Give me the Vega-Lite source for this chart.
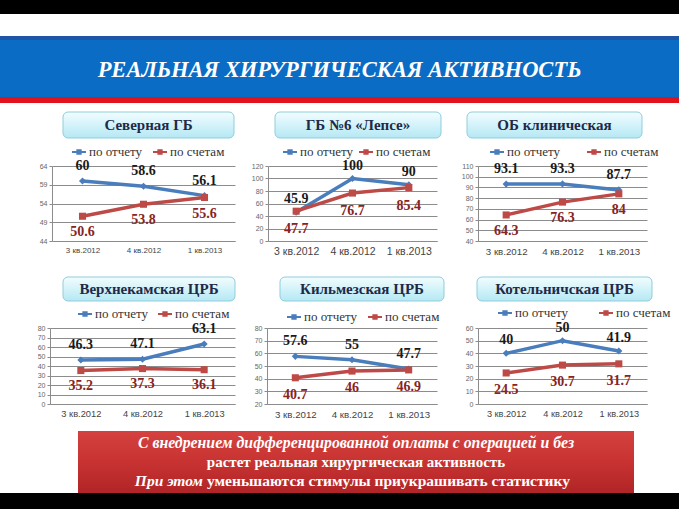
{
"$schema": "https://vega.github.io/schema/vega-lite/v6.json",
"padding": 0,
"background": "white",
"datasets": {
"d": [
{"p":"p1","q":"3 кв.2012","s":"по отчету","v":60},{"p":"p1","q":"4 кв.2012","s":"по отчету","v":58.6},{"p":"p1","q":"1 кв.2013","s":"по отчету","v":56.1},
{"p":"p1","q":"3 кв.2012","s":"по счетам","v":50.6},{"p":"p1","q":"4 кв.2012","s":"по счетам","v":53.8},{"p":"p1","q":"1 кв.2013","s":"по счетам","v":55.6},
{"p":"p2","q":"3 кв.2012","s":"по отчету","v":45.9},{"p":"p2","q":"4 кв.2012","s":"по отчету","v":100},{"p":"p2","q":"1 кв.2013","s":"по отчету","v":90},
{"p":"p2","q":"3 кв.2012","s":"по счетам","v":47.7},{"p":"p2","q":"4 кв.2012","s":"по счетам","v":76.7},{"p":"p2","q":"1 кв.2013","s":"по счетам","v":85.4},
{"p":"p3","q":"3 кв.2012","s":"по отчету","v":93.1},{"p":"p3","q":"4 кв.2012","s":"по отчету","v":93.3},{"p":"p3","q":"1 кв.2013","s":"по отчету","v":87.7},
{"p":"p3","q":"3 кв.2012","s":"по счетам","v":64.3},{"p":"p3","q":"4 кв.2012","s":"по счетам","v":76.3},{"p":"p3","q":"1 кв.2013","s":"по счетам","v":84},
{"p":"p4","q":"3 кв.2012","s":"по отчету","v":46.3},{"p":"p4","q":"4 кв.2012","s":"по отчету","v":47.1},{"p":"p4","q":"1 кв.2013","s":"по отчету","v":63.1},
{"p":"p4","q":"3 кв.2012","s":"по счетам","v":35.2},{"p":"p4","q":"4 кв.2012","s":"по счетам","v":37.3},{"p":"p4","q":"1 кв.2013","s":"по счетам","v":36.1},
{"p":"p5","q":"3 кв.2012","s":"по отчету","v":57.6},{"p":"p5","q":"4 кв.2012","s":"по отчету","v":55},{"p":"p5","q":"1 кв.2013","s":"по отчету","v":47.7},
{"p":"p5","q":"3 кв.2012","s":"по счетам","v":40.7},{"p":"p5","q":"4 кв.2012","s":"по счетам","v":46},{"p":"p5","q":"1 кв.2013","s":"по счетам","v":46.9},
{"p":"p6","q":"3 кв.2012","s":"по отчету","v":40},{"p":"p6","q":"4 кв.2012","s":"по отчету","v":50},{"p":"p6","q":"1 кв.2013","s":"по отчету","v":41.9},
{"p":"p6","q":"3 кв.2012","s":"по счетам","v":24.5},{"p":"p6","q":"4 кв.2012","s":"по счетам","v":30.7},{"p":"p6","q":"1 кв.2013","s":"по счетам","v":31.7}
],
"t": [
{"line":"1","part":"c","text":"С внедрением дифференцированной оплаты с операцией и без"},
{"line":"2","part":"b","text":"растет реальная хирургическая активность"},
{"line":"3","part":"l","text":"При этом"},
{"line":"3","part":"r","text":"уменьшаются стимулы приукрашивать статистику"}
]
},
"data": {"values": [{"k": 1}]},
"spacing": 0,
"bounds": "full",
"resolve": {"scale": {"color": "independent", "stroke": "independent", "shape": "independent"}, "legend": {"color": "independent", "stroke": "independent", "shape": "independent"}},
"vconcat": [
{"width":679,"height":14,"mark":{"type":"rect","color":"#000000"}},
{"width":679,"height":22,"mark":{"type":"rect","opacity":0}},
{"width":679,"height":4,"mark":{"type":"rect","color":"#1f55a5"}},
{"width":679,"height":57,"data":{"values":[{"t":"РЕАЛЬНАЯ ХИРУРГИЧЕСКАЯ АКТИВНОСТЬ"}]},
 "layer":[
  {"mark":{"type":"rect","color":"#0a6cc4"}},
  {"mark":{"type":"text","font":"Liberation Serif","fontStyle":"italic","fontWeight":"bold","fontSize":22.5,"color":"#ffffff","dy":1},"encoding":{"text":{"field":"t","type":"nominal"}}}
 ]},
{"width":679,"height":6,"mark":{"type":"rect","color":"#e3131b"}},
{"width":679,"height":8,"mark":{"type":"rect","opacity":0}},
{"hconcat":[
 {"width":63,"height":26,"mark":{"type":"rect","opacity":0}},
 {"width":171,"height":26,"data":{"values":[{"t":"Северная ГБ"}]},"layer":[
  {"mark":{"type":"rect","cornerRadius":5,"stroke":"#8fcddb","strokeWidth":1,"fill":{"gradient":"linear","x1":0,"y1":0,"x2":0,"y2":1,"stops":[{"offset":0,"color":"#f2fdff"},{"offset":1,"color":"#b5e8f4"}]}}},
  {"mark":{"type":"text","font":"Liberation Serif","fontWeight":"bold","fontSize":15,"color":"#1e2a48"},"encoding":{"text":{"field":"t","type":"nominal"}}}]},
 {"width":41,"height":26,"mark":{"type":"rect","opacity":0}},
 {"width":166,"height":26,"data":{"values":[{"t":"ГБ №6 «Лепсе»"}]},"layer":[
  {"mark":{"type":"rect","cornerRadius":5,"stroke":"#8fcddb","strokeWidth":1,"fill":{"gradient":"linear","x1":0,"y1":0,"x2":0,"y2":1,"stops":[{"offset":0,"color":"#f2fdff"},{"offset":1,"color":"#b5e8f4"}]}}},
  {"mark":{"type":"text","font":"Liberation Serif","fontWeight":"bold","fontSize":15,"color":"#1e2a48"},"encoding":{"text":{"field":"t","type":"nominal"}}}]},
 {"width":26,"height":26,"mark":{"type":"rect","opacity":0}},
 {"width":175,"height":26,"data":{"values":[{"t":"ОБ клиническая"}]},"layer":[
  {"mark":{"type":"rect","cornerRadius":5,"stroke":"#8fcddb","strokeWidth":1,"fill":{"gradient":"linear","x1":0,"y1":0,"x2":0,"y2":1,"stops":[{"offset":0,"color":"#f2fdff"},{"offset":1,"color":"#b5e8f4"}]}}},
  {"mark":{"type":"text","font":"Liberation Serif","fontWeight":"bold","fontSize":15,"color":"#1e2a48"},"encoding":{"text":{"field":"t","type":"nominal"}}}]}
 ],"spacing":0,"bounds":"flush"},
{"width":679,"height":6,"mark":{"type":"rect","opacity":0}},
{"hconcat":[
 {"width":52,"height":110,"mark":{"type":"rect","opacity":0}},
 {"width":183,"height":75,"data":{"name":"d"},"transform":[{"filter":{"field":"p","equal":"p1"}}],
  "encoding":{"x":{"field":"q","type":"ordinal","sort":null,"scale":{"type":"point","padding":0.5},"axis":{"title":null,"labelFontSize":8}},
   "y":{"field":"v","type":"quantitative","scale":{"domain":[44,64],"nice":false,"zero":false},"axis":{"title":null,"values":[44,49,54,59,64]}}},
  "layer":[
   {"mark":{"type":"line","strokeWidth":3.5},"encoding":{"stroke":{"field":"s","type":"nominal","scale":{"range":["#4a7dbb","#bd4a47"]},"legend":null}}},
   {"mark":{"type":"point","filled":true,"size":50,"opacity":1},"encoding":{"color":{"field":"s","type":"nominal","scale":{"domain":["по отчету","по счетам"],"range":["#4a7dbb","#bd4a47"]},"legend":{"title":null,"orient":"none","legendX":20,"legendY":-21,"direction":"horizontal","columnPadding":10,"symbolType":"M-1,-0.14H1V0.14H-1Z M-0.38,-0.38H0.38V0.38H-0.38Z","symbolSize":196,"symbolStrokeWidth":0}},"shape":{"field":"s","type":"nominal","scale":{"range":["diamond","square"]},"legend":null}}},
   {"transform":[{"filter":{"field":"s","equal":"по отчету"}}],"mark":{"type":"text","dy":-15,"font":"Liberation Serif","fontWeight":"bold","fontSize":14},"encoding":{"text":{"field":"v","type":"nominal"},"color":{"value":"#1a1a1a"}}},
   {"transform":[{"filter":{"field":"s","equal":"по счетам"}}],"mark":{"type":"text","dy":16,"font":"Liberation Serif","fontWeight":"bold","fontSize":14},"encoding":{"text":{"field":"v","type":"nominal"},"color":{"value":"#862424"}}}
  ]},
 {"width":33,"height":75,"mark":{"type":"rect","opacity":0}},
 {"width":169,"height":75,"data":{"name":"d"},"transform":[{"filter":{"field":"p","equal":"p2"}}],
  "encoding":{"x":{"field":"q","type":"ordinal","sort":null,"scale":{"type":"point","padding":0.5},"axis":{"title":null,"labelFontSize":10.5}},
   "y":{"field":"v","type":"quantitative","scale":{"domain":[0,120],"nice":false,"zero":false},"axis":{"title":null,"values":[0,20,40,60,80,100,120]}}},
  "layer":[
   {"mark":{"type":"line","strokeWidth":3.5},"encoding":{"stroke":{"field":"s","type":"nominal","scale":{"range":["#4a7dbb","#bd4a47"]},"legend":null}}},
   {"mark":{"type":"point","filled":true,"size":50,"opacity":1},"encoding":{"color":{"field":"s","type":"nominal","scale":{"domain":["по отчету","по счетам"],"range":["#4a7dbb","#bd4a47"]},"legend":{"title":null,"orient":"none","legendX":15,"legendY":-21,"direction":"horizontal","columnPadding":5,"symbolType":"M-1,-0.14H1V0.14H-1Z M-0.38,-0.38H0.38V0.38H-0.38Z","symbolSize":196,"symbolStrokeWidth":0}},"shape":{"field":"s","type":"nominal","scale":{"range":["diamond","square"]},"legend":null}}},
   {"transform":[{"filter":{"field":"s","equal":"по отчету"}}],"mark":{"type":"text","dy":-13,"font":"Liberation Serif","fontWeight":"bold","fontSize":14},"encoding":{"text":{"field":"v","type":"nominal"},"color":{"value":"#1a1a1a"}}},
   {"transform":[{"filter":{"field":"s","equal":"по счетам"}}],"mark":{"type":"text","dy":18,"font":"Liberation Serif","fontWeight":"bold","fontSize":14},"encoding":{"text":{"field":"v","type":"nominal"},"color":{"value":"#862424"}}}
  ]},
 {"width":41,"height":75,"mark":{"type":"rect","opacity":0}},
 {"width":169,"height":75,"data":{"name":"d"},"transform":[{"filter":{"field":"p","equal":"p3"}}],
  "encoding":{"x":{"field":"q","type":"ordinal","sort":null,"scale":{"type":"point","padding":0.5},"axis":{"title":null,"labelFontSize":9.7}},
   "y":{"field":"v","type":"quantitative","scale":{"domain":[40,110],"nice":false,"zero":false},"axis":{"title":null,"values":[40,50,60,70,80,90,100,110]}}},
  "layer":[
   {"mark":{"type":"line","strokeWidth":3.5},"encoding":{"stroke":{"field":"s","type":"nominal","scale":{"range":["#4a7dbb","#bd4a47"]},"legend":null}}},
   {"mark":{"type":"point","filled":true,"size":50,"opacity":1},"encoding":{"color":{"field":"s","type":"nominal","scale":{"domain":["по отчету","по счетам"],"range":["#4a7dbb","#bd4a47"]},"legend":{"title":null,"orient":"none","legendX":12,"legendY":-21,"direction":"horizontal","columnPadding":26,"symbolType":"M-1,-0.14H1V0.14H-1Z M-0.38,-0.38H0.38V0.38H-0.38Z","symbolSize":196,"symbolStrokeWidth":0}},"shape":{"field":"s","type":"nominal","scale":{"range":["diamond","square"]},"legend":null}}},
   {"transform":[{"filter":{"field":"s","equal":"по отчету"}}],"mark":{"type":"text","dy":-15,"font":"Liberation Serif","fontWeight":"bold","fontSize":14},"encoding":{"text":{"field":"v","type":"nominal"},"color":{"value":"#1a1a1a"}}},
   {"transform":[{"filter":{"field":"s","equal":"по счетам"}}],"mark":{"type":"text","dy":16,"font":"Liberation Serif","fontWeight":"bold","fontSize":14},"encoding":{"text":{"field":"v","type":"nominal"},"color":{"value":"#862424"}}}
  ]}
 ],"spacing":0,"bounds":"flush","resolve":{"scale":{"color":"independent","stroke":"independent","shape":"independent"},"legend":{"color":"independent","stroke":"independent","shape":"independent"}}},
{"hconcat":[
 {"width":63,"height":24,"mark":{"type":"rect","opacity":0}},
 {"width":172,"height":24,"data":{"values":[{"t":"Верхнекамская ЦРБ"}]},"layer":[
  {"mark":{"type":"rect","cornerRadius":5,"stroke":"#8fcddb","strokeWidth":1,"fill":{"gradient":"linear","x1":0,"y1":0,"x2":0,"y2":1,"stops":[{"offset":0,"color":"#f2fdff"},{"offset":1,"color":"#b5e8f4"}]}}},
  {"mark":{"type":"text","font":"Liberation Serif","fontWeight":"bold","fontSize":15,"color":"#1e2a48"},"encoding":{"text":{"field":"t","type":"nominal"}}}]},
 {"width":45,"height":24,"mark":{"type":"rect","opacity":0}},
 {"width":164,"height":24,"data":{"values":[{"t":"Кильмезская ЦРБ"}]},"layer":[
  {"mark":{"type":"rect","cornerRadius":5,"stroke":"#8fcddb","strokeWidth":1,"fill":{"gradient":"linear","x1":0,"y1":0,"x2":0,"y2":1,"stops":[{"offset":0,"color":"#f2fdff"},{"offset":1,"color":"#b5e8f4"}]}}},
  {"mark":{"type":"text","font":"Liberation Serif","fontWeight":"bold","fontSize":15,"color":"#1e2a48"},"encoding":{"text":{"field":"t","type":"nominal"}}}]},
 {"width":33,"height":24,"mark":{"type":"rect","opacity":0}},
 {"width":175,"height":24,"data":{"values":[{"t":"Котельничская ЦРБ"}]},"layer":[
  {"mark":{"type":"rect","cornerRadius":5,"stroke":"#8fcddb","strokeWidth":1,"fill":{"gradient":"linear","x1":0,"y1":0,"x2":0,"y2":1,"stops":[{"offset":0,"color":"#f2fdff"},{"offset":1,"color":"#b5e8f4"}]}}},
  {"mark":{"type":"text","font":"Liberation Serif","fontWeight":"bold","fontSize":15,"color":"#1e2a48"},"encoding":{"text":{"field":"t","type":"nominal"}}}]}
 ],"spacing":0,"bounds":"flush"},
{"width":679,"height":4,"mark":{"type":"rect","opacity":0}},
{"hconcat":[
 {"width":50,"height":103,"mark":{"type":"rect","opacity":0}},
 {"width":185,"height":76,"data":{"name":"d"},"transform":[{"filter":{"field":"p","equal":"p4"}}],
  "encoding":{"x":{"field":"q","type":"ordinal","sort":null,"scale":{"type":"point","padding":0.5},"axis":{"title":null,"labelFontSize":9.3}},
   "y":{"field":"v","type":"quantitative","scale":{"domain":[0,80],"nice":false,"zero":false},"axis":{"title":null,"values":[0,10,20,30,40,50,60,70,80]}}},
  "layer":[
   {"mark":{"type":"line","strokeWidth":3.5},"encoding":{"stroke":{"field":"s","type":"nominal","scale":{"range":["#4a7dbb","#bd4a47"]},"legend":null}}},
   {"mark":{"type":"point","filled":true,"size":50,"opacity":1},"encoding":{"color":{"field":"s","type":"nominal","scale":{"domain":["по отчету","по счетам"],"range":["#4a7dbb","#bd4a47"]},"legend":{"title":null,"orient":"none","legendX":28,"legendY":-21,"direction":"horizontal","columnPadding":9,"symbolType":"M-1,-0.14H1V0.14H-1Z M-0.38,-0.38H0.38V0.38H-0.38Z","symbolSize":196,"symbolStrokeWidth":0}},"shape":{"field":"s","type":"nominal","scale":{"range":["diamond","square"]},"legend":null}}},
   {"transform":[{"filter":{"field":"s","equal":"по отчету"}}],"mark":{"type":"text","dy":-15,"font":"Liberation Serif","fontWeight":"bold","fontSize":14},"encoding":{"text":{"field":"v","type":"nominal"},"color":{"value":"#1a1a1a"}}},
   {"transform":[{"filter":{"field":"s","equal":"по счетам"}}],"mark":{"type":"text","dy":15,"font":"Liberation Serif","fontWeight":"bold","fontSize":14},"encoding":{"text":{"field":"v","type":"nominal"},"color":{"value":"#862424"}}}
  ]},
 {"width":32,"height":76,"mark":{"type":"rect","opacity":0}},
 {"width":170,"height":76,"data":{"name":"d"},"transform":[{"filter":{"field":"p","equal":"p5"}}],
  "encoding":{"x":{"field":"q","type":"ordinal","sort":null,"scale":{"type":"point","padding":0.5},"axis":{"title":null,"labelFontSize":9.7}},
   "y":{"field":"v","type":"quantitative","scale":{"domain":[20,80],"nice":false,"zero":false},"axis":{"title":null,"values":[20,30,40,50,60,70,80]}}},
  "layer":[
   {"mark":{"type":"line","strokeWidth":3.5},"encoding":{"stroke":{"field":"s","type":"nominal","scale":{"range":["#4a7dbb","#bd4a47"]},"legend":null}}},
   {"mark":{"type":"point","filled":true,"size":50,"opacity":1},"encoding":{"color":{"field":"s","type":"nominal","scale":{"domain":["по отчету","по счетам"],"range":["#4a7dbb","#bd4a47"]},"legend":{"title":null,"orient":"none","legendX":20,"legendY":-18,"direction":"horizontal","columnPadding":10,"symbolType":"M-1,-0.14H1V0.14H-1Z M-0.38,-0.38H0.38V0.38H-0.38Z","symbolSize":196,"symbolStrokeWidth":0}},"shape":{"field":"s","type":"nominal","scale":{"range":["diamond","square"]},"legend":null}}},
   {"transform":[{"filter":{"field":"s","equal":"по отчету"}}],"mark":{"type":"text","dy":-15,"font":"Liberation Serif","fontWeight":"bold","fontSize":14},"encoding":{"text":{"field":"v","type":"nominal"},"color":{"value":"#1a1a1a"}}},
   {"transform":[{"filter":{"field":"s","equal":"по счетам"}}],"mark":{"type":"text","dy":17,"font":"Liberation Serif","fontWeight":"bold","fontSize":14},"encoding":{"text":{"field":"v","type":"nominal"},"color":{"value":"#862424"}}}
  ]},
 {"width":41,"height":76,"mark":{"type":"rect","opacity":0}},
 {"width":169,"height":76,"data":{"name":"d"},"transform":[{"filter":{"field":"p","equal":"p6"}}],
  "encoding":{"x":{"field":"q","type":"ordinal","sort":null,"scale":{"type":"point","padding":0.5},"axis":{"title":null,"labelFontSize":9.2}},
   "y":{"field":"v","type":"quantitative","scale":{"domain":[0,60],"nice":false,"zero":false},"axis":{"title":null,"values":[0,10,20,30,40,50,60]}}},
  "layer":[
   {"mark":{"type":"line","strokeWidth":3.5},"encoding":{"stroke":{"field":"s","type":"nominal","scale":{"range":["#4a7dbb","#bd4a47"]},"legend":null}}},
   {"mark":{"type":"point","filled":true,"size":50,"opacity":1},"encoding":{"color":{"field":"s","type":"nominal","scale":{"domain":["по отчету","по счетам"],"range":["#4a7dbb","#bd4a47"]},"legend":{"title":null,"orient":"none","legendX":20,"legendY":-22,"direction":"horizontal","columnPadding":30,"symbolType":"M-1,-0.14H1V0.14H-1Z M-0.38,-0.38H0.38V0.38H-0.38Z","symbolSize":196,"symbolStrokeWidth":0}},"shape":{"field":"s","type":"nominal","scale":{"range":["diamond","square"]},"legend":null}}},
   {"transform":[{"filter":{"field":"s","equal":"по отчету"}}],"mark":{"type":"text","dy":-13,"font":"Liberation Serif","fontWeight":"bold","fontSize":14},"encoding":{"text":{"field":"v","type":"nominal"},"color":{"value":"#1a1a1a"}}},
   {"transform":[{"filter":{"field":"s","equal":"по счетам"}}],"mark":{"type":"text","dy":17,"font":"Liberation Serif","fontWeight":"bold","fontSize":14},"encoding":{"text":{"field":"v","type":"nominal"},"color":{"value":"#862424"}}}
  ]}
 ],"spacing":0,"bounds":"flush","resolve":{"scale":{"color":"independent","stroke":"independent","shape":"independent"},"legend":{"color":"independent","stroke":"independent","shape":"independent"}}},
{"hconcat":[
 {"width":78,"height":62,"mark":{"type":"rect","opacity":0}},
 {"width":556,"height":62,"data":{"name":"t"},"layer":[
  {"mark":{"type":"rect","fill":{"gradient":"linear","x1":0,"y1":0,"x2":0,"y2":1,"stops":[{"offset":0,"color":"#d4413e"},{"offset":0.5,"color":"#c83332"},{"offset":1,"color":"#b02427"}]}}},
  {"transform":[{"filter":{"field":"part","equal":"c"}}],"mark":{"type":"text","font":"Liberation Serif","fontStyle":"italic","fontWeight":"bold","fontSize":15.8,"color":"#ffffff"},"encoding":{"text":{"field":"text","type":"nominal"},"y":{"field":"line","type":"ordinal","scale":{"type":"point","padding":0.65},"axis":null}}},
  {"transform":[{"filter":{"field":"part","equal":"b"}}],"mark":{"type":"text","font":"Liberation Serif","fontWeight":"bold","fontSize":15,"color":"#ffffff"},"encoding":{"text":{"field":"text","type":"nominal"},"y":{"field":"line","type":"ordinal","scale":{"type":"point","padding":0.65},"axis":null}}},
  {"transform":[{"filter":{"field":"part","equal":"l"}}],"mark":{"type":"text","font":"Liberation Serif","fontStyle":"italic","fontWeight":"bold","fontSize":15.5,"color":"#ffffff","align":"right","dx":-153},"encoding":{"text":{"field":"text","type":"nominal"},"y":{"field":"line","type":"ordinal","scale":{"type":"point","padding":0.65},"axis":null}}},
  {"transform":[{"filter":{"field":"part","equal":"r"}}],"mark":{"type":"text","font":"Liberation Serif","fontWeight":"bold","fontSize":15.5,"color":"#ffffff","align":"left","dx":-149},"encoding":{"text":{"field":"text","type":"nominal"},"y":{"field":"line","type":"ordinal","scale":{"type":"point","padding":0.65},"axis":null}}}
 ]}
 ],"spacing":0,"bounds":"flush"},
{"width":679,"height":17,"mark":{"type":"rect","color":"#000000"}}
],
"config": {
 "view": {"stroke": null},
 "axisY": {"labelFontSize": 7, "labelColor": "#666666", "labelFont": "Liberation Sans", "tickSize": 3, "tickColor": "#8c8c8c", "domainColor": "#8c8c8c", "gridColor": "#8c8c8c", "labelPadding": 2},
 "axisX": {"labelFont": "Liberation Sans", "labelColor": "#444444", "ticks": false, "domainColor": "#8c8c8c", "labelPadding": 5, "labelAngle": 0, "grid": false},
 "legend": {"labelFont": "Liberation Serif", "labelFontSize": 13, "labelColor": "#333333", "labelOffset": 3}
}
}
